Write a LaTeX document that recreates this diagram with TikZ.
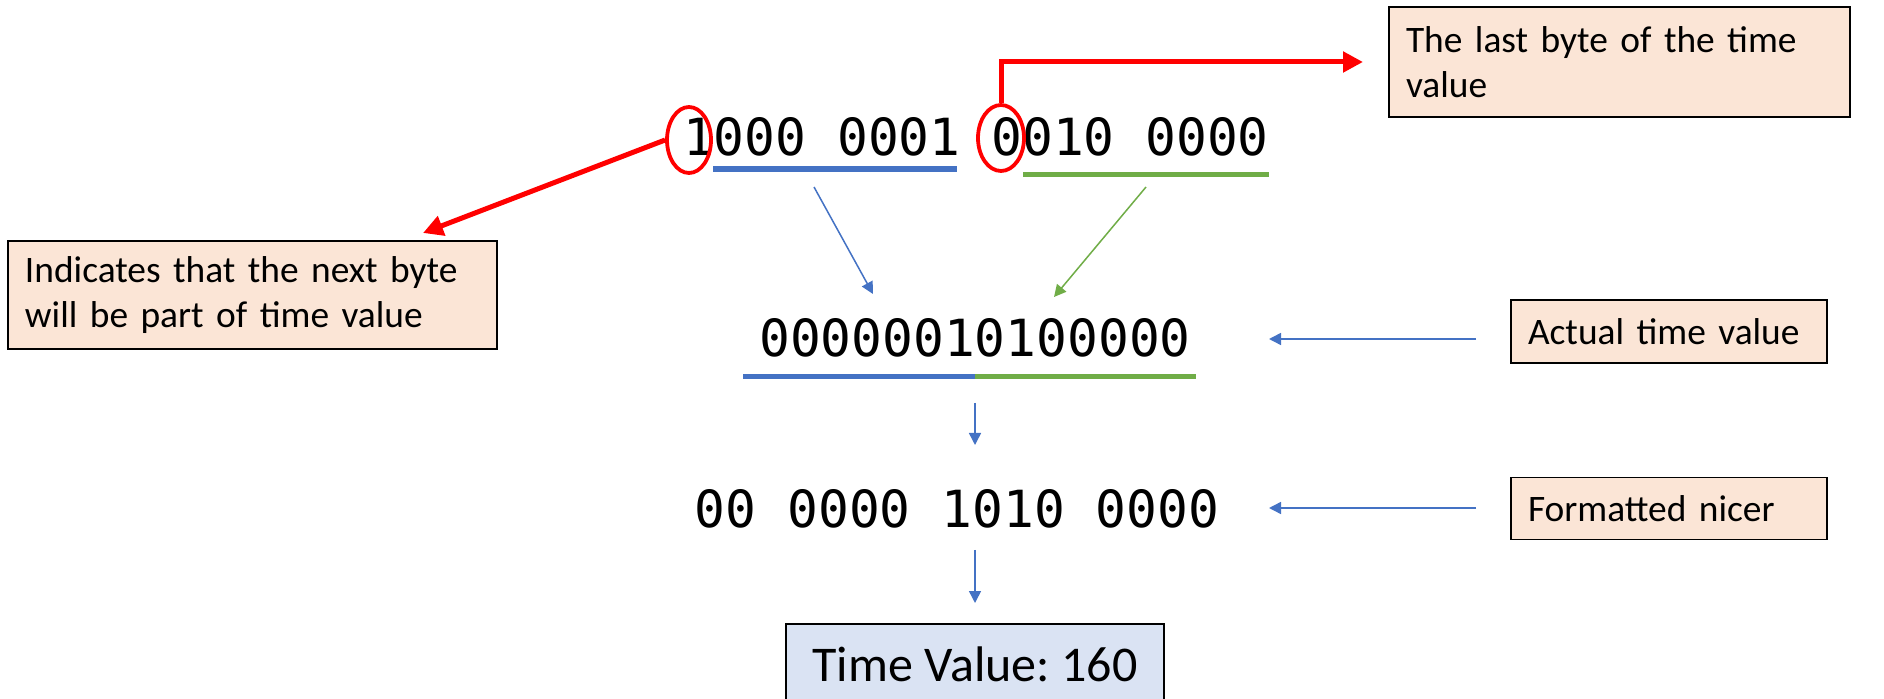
\documentclass[tikz,border=0pt]{standalone}
\usepackage{fontspec}
\setmainfont{Carlito}
\newfontfamily\bitfont{DejaVu Sans Mono}
\usetikzlibrary{arrows.meta,shapes.geometric}
\definecolor{peach}{HTML}{FBE5D6}
\definecolor{paleblue}{HTML}{DAE3F3}
\definecolor{byteblue}{HTML}{4472C4}
\definecolor{bytegreen}{HTML}{70AD47}
\frenchspacing
\tikzset{bits/.style={font=\bitfont\fontsize{25.6}{30}\selectfont, anchor=base, inner sep=0pt},
         note/.style={draw=black, line width=0.6pt, fill=peach, align=left, inner xsep=8.5pt,
                      font=\fontsize{18.7}{22.5}\selectfont},
         ring/.style={draw=red, line width=1.9pt, ellipse, inner sep=0pt},
         redarrow/.style={draw=red, line width=2.5pt, -{Triangle[length=10pt,width=10pt]}},
         thinarrow/.style={line width=0.75pt, -{Triangle[length=6pt,width=6pt]}},
         underline/.style={line width=2.75pt}}

\begin{document}
\begin{tikzpicture}[x=0.5pt,y=-0.5pt]
  \path[use as bounding box, fill=white] (0,0) rectangle (1884,699);
  % the bytes as read
  \node[bits] (rawbytes) at (976,156) {1000 0001 0010 0000};
  \node[ring, minimum width=22pt, minimum height=33pt] (firstbit) at (689,140) {};
  \node[ring, minimum width=23pt, minimum height=33pt] (zerobit)  at (1001,138) {};
  \draw[underline, byteblue]  (713,169)  -- (957,169);
  \draw[underline, bytegreen] (1023,174.5) -- (1269,174.5);
  % notes
  \node[note, text width=227.5pt, minimum height=54pt] (nextbyte) at (252.5,295)
       {Indicates that the next byte\\will be part of time value};
  \node[note, text width=213.5pt, minimum height=55pt] (lastbyte) at (1619.5,62)
       {The last byte of the time\\value};
  \coordinate (nexttip) at (423,233);
  \coordinate (lasttip) at (1363,62);
  \draw[redarrow] (firstbit.west) -- (nexttip);
  \draw[redarrow] (zerobit.north) |- (lasttip);
  % joined value
  \node[bits] (joined) at (975,357) {00000010100000};
  \draw[underline, byteblue]  (743,376.5) -- (975,376.5);
  \draw[underline, bytegreen] (975,376.5) -- (1196,376.5);
  \coordinate (bluefrom) at (814,187);
  \coordinate (blueto)   at (873,294);
  \coordinate (greenfrom) at (1146,187);
  \coordinate (greento)   at (1054,297);
  \draw[thinarrow, byteblue]  (bluefrom) -- (blueto);
  \draw[thinarrow, bytegreen] (greenfrom) -- (greento);
  \node[note, text width=141pt, minimum height=31.5pt] (actual) at (1669,331.5) {Actual time value};
  \coordinate (actualfrom) at (1476,339);
  \coordinate (actualto)   at (1269,339);
  \draw[thinarrow, byteblue] (actualfrom) -- (actualto);
  % formatted value
  \coordinate (joinfrom) at (975,403);
  \coordinate (jointo)   at (975,445);
  \draw[thinarrow, byteblue] (joinfrom) -- (jointo);
  \node[bits] (nicer) at (957,528) {00 0000 1010 0000};
  \node[note, text width=141pt, minimum height=31pt] (formatted) at (1669,508.5) {Formatted nicer};
  \coordinate (formfrom) at (1476,508);
  \coordinate (formto)   at (1269,508);
  \draw[thinarrow, byteblue] (formfrom) -- (formto);
  % result
  \coordinate (nicerfrom) at (975,550);
  \coordinate (nicerto)   at (975,603);
  \draw[thinarrow, byteblue] (nicerfrom) -- (nicerto);
  \node[draw=black, line width=0.6pt, fill=paleblue, minimum width=189pt, minimum height=40pt,
        font=\fontsize{25}{30}\selectfont] (timevalue) at (975,664) {Time Value: 160};
\end{tikzpicture}
\end{document}
